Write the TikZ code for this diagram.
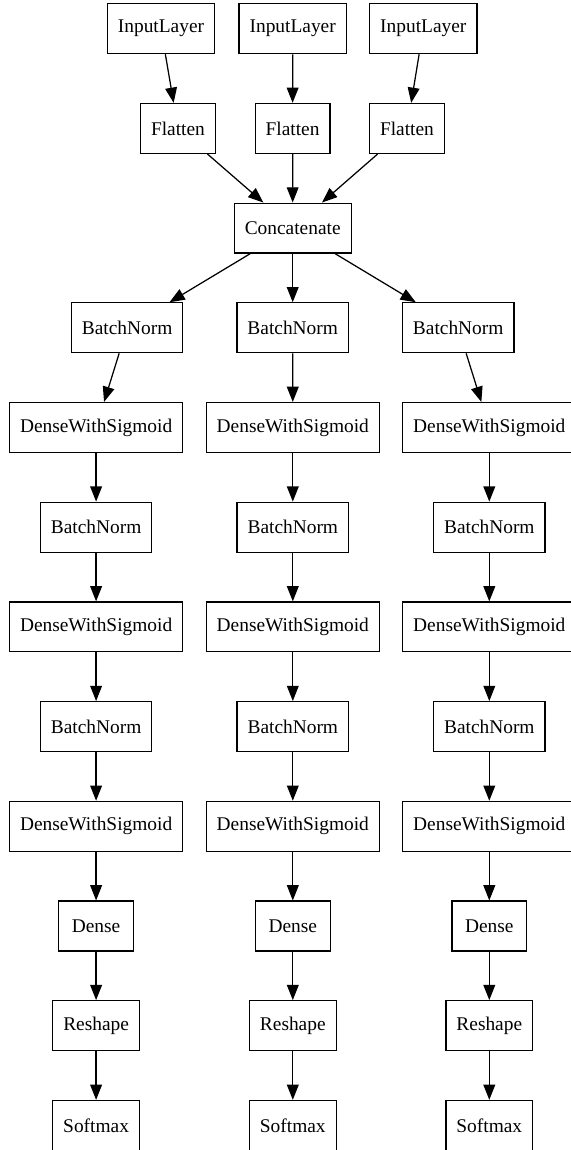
\documentclass[tikz,border=0pt]{standalone}
\usepackage{fontspec}
\setmainfont{Liberation Serif}
\usetikzlibrary{arrows.meta}
\tikzset{
  layer/.style={draw=black, line width=0.9pt, rectangle, minimum height=36pt, minimum width=54pt,
    inner xsep=7.6pt, inner ysep=0pt, font=\fontsize{14pt}{16pt}\selectfont, text=black},
  conn/.style={line width=0.9pt, -{Triangle[length=11pt,width=8.5pt]}}
}
\begin{document}
\begin{tikzpicture}[x=0.722pt, y=-0.722pt]
\useasboundingbox (0,0) rectangle (571,1150);
% top part
\node[layer] (il1) at (161,28.7) {InputLayer};
\node[layer] (il2) at (292.7,28.7) {InputLayer};
\node[layer] (il3) at (423.3,28.7) {InputLayer};
\node[layer] (fl1) at (178,128.4) {Flatten};
\node[layer] (fl2) at (292.6,128.4) {Flatten};
\node[layer] (fl3) at (407,128.4) {Flatten};
\node[layer] (cc) at (292.7,228.1) {Concatenate};
\draw[conn] (il1) -- (fl1);
\draw[conn] (il2) -- (fl2);
\draw[conn] (il3) -- (fl3);
\draw[conn] (fl1) -- (cc);
\draw[conn] (fl2) -- (cc);
\draw[conn] (fl3) -- (cc);
% branches
\foreach \c/\xb/\x in {a/127.1/96.1, b/292.7/292.8, c/458.2/489.3} {
  \node[layer] (\c bn1) at (\xb,327.8) {BatchNorm};
  \node[layer] (\c ds1) at (\x,427.5) {DenseWithSigmoid};
  \node[layer] (\c bn2) at (\x,527.2) {BatchNorm};
  \node[layer] (\c ds2) at (\x,626.9) {DenseWithSigmoid};
  \node[layer] (\c bn3) at (\x,726.6) {BatchNorm};
  \node[layer] (\c ds3) at (\x,826.3) {DenseWithSigmoid};
  \node[layer] (\c de) at (\x,926.0) {Dense};
  \node[layer] (\c rs) at (\x,1025.7) {Reshape};
  \node[layer] (\c sm) at (\x,1125.4) {Softmax};
  \draw[conn] (cc) -- (\c bn1);
  \draw[conn] (\c bn1) -- (\c ds1);
  \draw[conn] (\c ds1) -- (\c bn2);
  \draw[conn] (\c bn2) -- (\c ds2);
  \draw[conn] (\c ds2) -- (\c bn3);
  \draw[conn] (\c bn3) -- (\c ds3);
  \draw[conn] (\c ds3) -- (\c de);
  \draw[conn] (\c de) -- (\c rs);
  \draw[conn] (\c rs) -- (\c sm);
}
\end{tikzpicture}
\end{document}
